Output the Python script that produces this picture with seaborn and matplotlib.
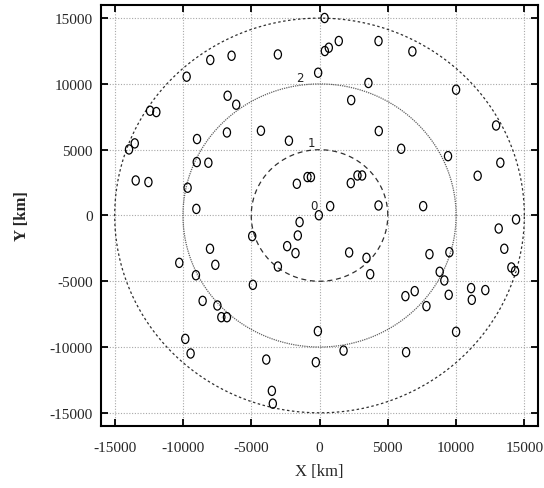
import numpy as np
import pandas as pd
import matplotlib
matplotlib.use("Agg")
import matplotlib.pyplot as plt
import seaborn as sns
from matplotlib.markers import MarkerStyle
from matplotlib.transforms import Affine2D

# Station positions [km]
x_km = [
    -3050, -6440, -8000, -9730, -6730, -6100, -12410, -11950, -4290, -6780,
    -8970, -2240, -13530, -13950, -8990, -8140, -13460, -12530, -1660, -9660,
    -9020,
    370, 1410, 680, 390, 4320, 6800, -100, 3580, 10000, 2320, 12930, 4340,
    5980, 9410, 13240, 11580, -880, -630, 2780, 3120, 2290, 780, 4320, 7590,
    -50, 14390,
    -1460, -1590, 13120, 13530, -1760, 2170, 3440, 8050, 9510, 3710, 8800,
    9140, 14050, 14320, 6290, 6970, 9460, 7830, 11100, 11150, 12140, -120,
    10000, 1760, 6340, -270,
    -4930, -2370, -8020, -10270, -7630, -3050, -9050, -4880, -8560, -7480,
    -7190, -6780, -9830, -9440, -3900, -3490, -3420,
]
y_km = [
    12240, 12140, 11820, 10550, 9100, 8420, 7960, 7860, 6440, 6310,
    5810, 5680, 5480, 5020, 4060, 4010, 2660, 2540, 2410, 2110,
    500,
    15010, 13260, 12750, 12500, 13260, 12470, 10850, 10070, 9560, 8770, 6840,
    6420, 5070, 4510, 4010, 3020, 2920, 2920, 3040, 3040, 2460, 710, 760, 710,
    20, -300,
    -500, -1520, -990, -2530, -2860, -2810, -3220, -2940, -2790, -4460, -4280,
    -4940, -3950, -4230, -6130, -5750, -6030, -6890, -5520, -6410, -5670,
    -8790, -8840, -10270, -10390, -11150,
    -1570, -2330, -2530, -3600, -3750, -3880, -4540, -5270, -6490, -6840,
    -7730, -7730, -9380, -10490, -10950, -13330, -14300,
]

# Ring radii [km] and their index labels
ring_radii = [5000, 10000, 15000]
ring_styles = [(0, (4, 3)), (0, (1, 0.8)), (0, (2, 2))]
ring_colors = ["#303030", "#606060", "#303030"]
ring_labels = ["0", "1", "2"]
ring_label_x = [-440, -610, -1460]
ring_label_y = [760, 5580, 10520]

ticks = [-15000, -10000, -5000, 0, 5000, 10000, 15000]

sns.set_style("ticks")
plt.rcParams["font.family"] = ["Liberation Serif", "DejaVu Serif"]

fig = plt.figure(figsize=(5.44, 4.89), dpi=100)
ax = fig.add_axes([0.1857, 0.1268, 0.8033, 0.861])

# Rings around the origin
theta = np.linspace(0, 2 * np.pi, 721)
for r, ls, c in zip(ring_radii, ring_styles, ring_colors):
    ring = pd.DataFrame({"x": r * np.cos(theta), "y": r * np.sin(theta)})
    sns.lineplot(data=ring, x="x", y="y", sort=False, estimator=None,
                 ax=ax, color=c, linewidth=0.9, linestyle=ls, zorder=2)

for lab, lx, ly in zip(ring_labels, ring_label_x, ring_label_y):
    ax.text(lx, ly, lab, ha="center", va="center", fontsize=8.5,
            family=["DejaVu Sans"], color="#222222", zorder=3)

# Stations as open ellipses with a faint centre dot
stations = pd.DataFrame({"x": x_km, "y": y_km})
oval = MarkerStyle("o", transform=Affine2D().scale(0.78, 1.0))
sns.scatterplot(data=stations, x="x", y="y", ax=ax, marker=oval, s=44,
                facecolors="none", edgecolors="black", linewidths=0.9,
                zorder=4, legend=False)
sns.scatterplot(data=stations, x="x", y="y", ax=ax, marker=".", s=1,
                color="#999999", linewidth=0, zorder=4, legend=False)

ax.set_xlim(-16000, 16000)
ax.set_ylim(-16000, 16000)
ax.set_xticks(ticks)
ax.set_yticks(ticks)
ax.set_xticklabels([str(t) for t in ticks])
ax.set_yticklabels([str(t) for t in ticks])

ax.grid(True, color="#a8a8a8", linestyle=(0, (1, 1.5)), linewidth=0.8)
ax.set_axisbelow(True)

for sp in ax.spines.values():
    sp.set_visible(True)
    sp.set_linewidth(1.5)
    sp.set_color("black")

ax.tick_params(axis="both", which="major", direction="in", length=5,
               width=1.3, top=True, right=True, labelsize=11, color="black")
ax.tick_params(axis="x", pad=11)
ax.tick_params(axis="y", pad=6)

ax.set_xlabel("X [km]", fontsize=12, labelpad=6)
ax.set_ylabel("Y [km]", fontsize=12, fontweight="bold", labelpad=14)

fig.savefig("out.png", dpi=100)
